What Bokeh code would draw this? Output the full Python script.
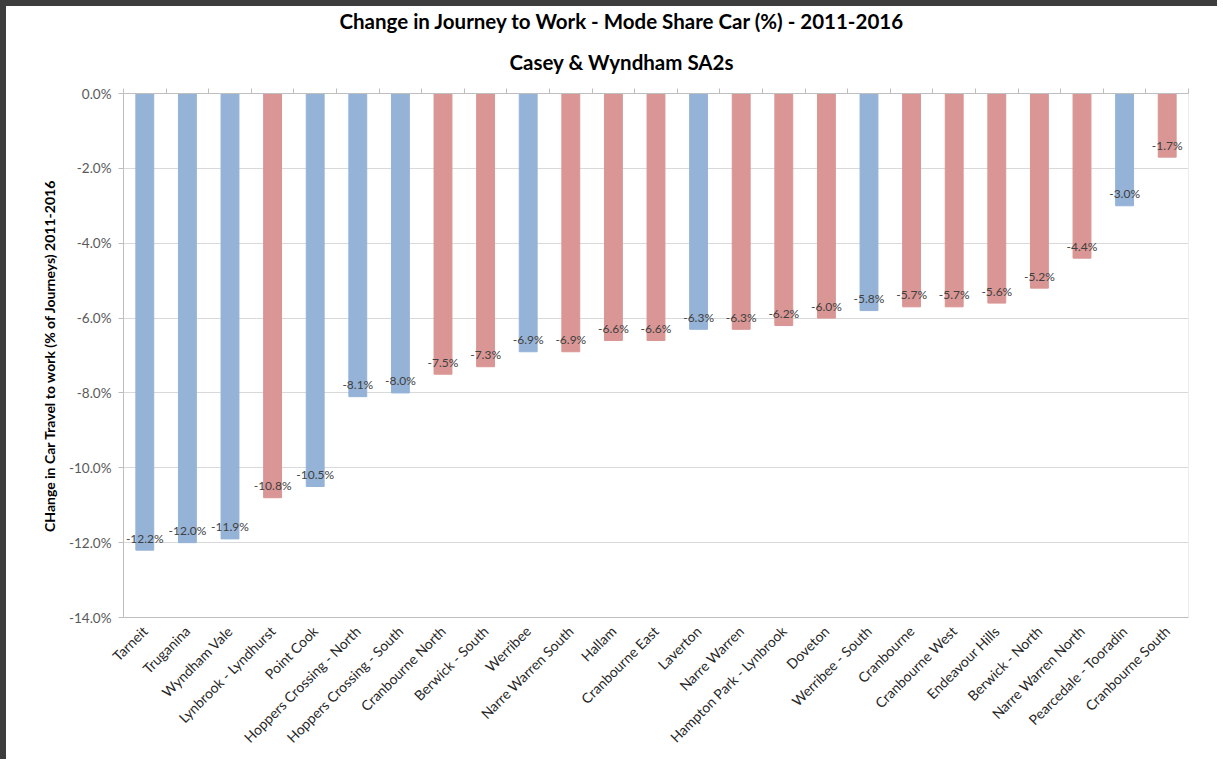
import math
from bokeh.plotting import figure
from bokeh.models import (ColumnDataSource, FixedTicker, PrintfTickFormatter, LinearAxis,
                          Range1d, Title, CustomJSTickFormatter)
from bokeh.core.properties import value
from bokeh.embed import file_html
from bokeh.resources import INLINE

# ---- data ----
areas = ["Tarneit", "Truganina", "Wyndham Vale", "Lynbrook - Lyndhurst", "Point Cook",
         "Hoppers Crossing - North", "Hoppers Crossing - South", "Cranbourne North",
         "Berwick - South", "Werribee", "Narre Warren South", "Hallam", "Cranbourne East",
         "Laverton", "Narre Warren", "Hampton Park - Lynbrook", "Doveton", "Werribee - South",
         "Cranbourne", "Cranbourne West", "Endeavour Hills", "Berwick - North",
         "Narre Warren North", "Pearcedale - Tooradin", "Cranbourne South"]
change_pct = [-12.2, -12.0, -11.9, -10.8, -10.5, -8.1, -8.0, -7.5, -7.3, -6.9, -6.9, -6.6, -6.6,
              -6.3, -6.3, -6.2, -6.0, -5.8, -5.7, -5.7, -5.6, -5.2, -4.4, -3.0, -1.7]
bar_group = ["blue", "blue", "blue", "red", "blue", "blue", "blue", "red", "red", "blue",
             "red", "red", "red", "blue", "red", "red", "red", "blue", "red", "red", "red",
             "red", "red", "blue", "red"]
y_ticks = [-14, -12, -10, -8, -6, -4, -2, 0]

title_line1 = "Change in Journey to Work - Mode Share Car (%) - 2011-2016"
title_line2 = "Casey & Wyndham SA2s"
y_title = "CHange in Car Travel to work (% of Journeys) 2011-2016"

palette = {"blue": "#95B3D7", "red": "#D99694"}
FONT = "Lato"

n = len(areas)
centers = [i + 0.5 for i in range(n)]
src = ColumnDataSource(dict(
    x=centers,
    area=areas,
    val=change_pct,
    color=[palette[g] for g in bar_group],
    label=[f"{v:.1f}%" for v in change_pct],
))

p = figure(width=1217, height=759, x_range=Range1d(0, n), y_range=Range1d(-14, 0),
           output_backend="svg", toolbar_location=None, x_axis_location=None,
           min_border_left=117, min_border_right=35, min_border_top=87, min_border_bottom=148)
p.styles = {"border-top": "6px solid #3d3d3d", "border-left": "6px solid #3d3d3d"}

p.vbar(x="x", top="val", bottom=0, width=0.42, color="color", source=src)
p.text(x="x", y="val", text="label", source=src, text_align="center",
       text_baseline="middle", y_offset=-12, text_font=value(FONT),
       text_font_size="12px", text_color="#404040")

# y axis
yax = p.yaxis[0]
yax.ticker = FixedTicker(ticks=y_ticks)
yax.formatter = PrintfTickFormatter(format="%.1f%%")
yax.axis_line_color = "#bfbfbf"
yax.major_tick_line_color = "#bfbfbf"
yax.major_tick_out = 5
yax.major_tick_in = 0
yax.minor_tick_line_color = None
yax.major_label_text_font = FONT
yax.major_label_text_font_size = "13.5px"
yax.major_label_text_color = "#595959"
yax.major_label_standoff = 7
yax.axis_label = y_title
yax.axis_label_text_font = FONT
yax.axis_label_text_font_style = "bold"
yax.axis_label_text_font_size = "14px"
yax.axis_label_text_color = "#000000"
yax.axis_label_standoff = 8

# x axis (category labels at bottom)
xax = LinearAxis(ticker=FixedTicker(ticks=centers),
                 formatter=CustomJSTickFormatter(args=dict(names=areas),
                                                 code="return names[Math.round(tick - 0.5)] || '';"),
                 major_label_orientation=math.pi / 4,
                 axis_line_color="#bfbfbf", major_tick_line_color=None,
                 minor_tick_line_color=None, major_label_text_font=FONT,
                 major_label_text_font_size="14px", major_label_text_color="#262626",
                 major_label_standoff=5)
p.add_layout(xax, "below")

# top axis with category-boundary ticks at y = 0
top = LinearAxis(ticker=FixedTicker(ticks=list(range(n + 1))),
                 formatter=CustomJSTickFormatter(code="return '';"),
                 axis_line_color="#bfbfbf", major_tick_line_color="#bfbfbf",
                 major_tick_out=5, major_tick_in=0, minor_tick_line_color=None,
                 major_label_standoff=0)
p.add_layout(top, "above")

p.xgrid.grid_line_color = None
p.ygrid.ticker = FixedTicker(ticks=y_ticks)
p.ygrid.grid_line_color = "#d9d9d9"
p.outline_line_color = "#ececec"

# titles (the added Title sits closest to the plot)
p.title = Title(text=title_line1, align="left", offset=216, text_font=FONT,
                text_font_style="bold", text_font_size="20.5px", text_color="#000000",
                standoff=0, text_line_height=0.7)
p.add_layout(Title(text=title_line2, align="left", offset=386, text_font=FONT,
                   text_font_style="bold", text_font_size="20.5px", text_color="#000000",
                   standoff=30),
             "above")

open("out.html", "w").write(file_html(p, INLINE))
